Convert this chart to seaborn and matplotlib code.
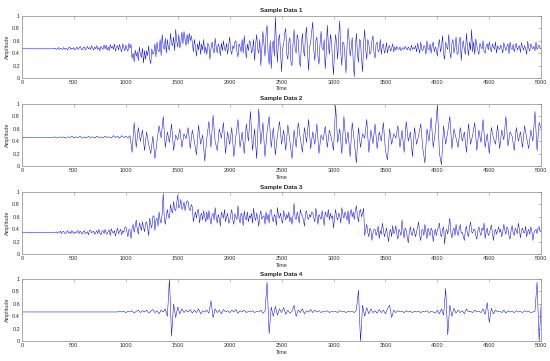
import numpy as np
import pandas as pd
import matplotlib
matplotlib.use("Agg")
import matplotlib.pyplot as plt
import seaborn as sns

titles = ["Sample Data 1", "Sample Data 2", "Sample Data 3", "Sample Data 4"]
x_ticks = [0, 500, 1000, 1500, 2000, 2500, 3000, 3500, 4000, 4500, 5000]
y_ticks = [0, 0.2, 0.4, 0.6, 0.8, 1]
y_tick_labels = ["0", "0.2", "0.4", "0.6", "0.8", "1"]

# Sample Data 1: one value every 10 time units (each line = 100 time units)
data1 = [
    .47, .47, .47, .47, .47, .47, .47, .47, .47, .47,
    .47, .47, .47, .47, .47, .47, .47, .47, .47, .47,
    .47, .47, .47, .47, .47, .47, .47, .47, .47, .47,
    .47, .47, .48, .46, .47, .49, .46, .48, .47, .46,
    .49, .46, .48, .47, .45, .49, .50, .46, .48, .47,
    .49, .45, .47, .50, .46, .48, .51, .47, .45, .49,
    .50, .45, .48, .51, .47, .49, .46, .52, .48, .45,
    .50, .47, .52, .46, .49, .44, .51, .48, .46, .53,
    .47, .53, .45, .50, .44, .54, .48, .51, .46, .55,
    .43, .50, .52, .45, .54, .47, .42, .55, .49, .44,
    .53, .46, .43, .56, .48, .54, .32, .40, .26, .45,
    .35, .42, .28, .50, .38, .33, .48, .24, .44, .30,
    .44, .36, .52, .30, .23, .47, .38, .40, .55, .34,
    .58, .45, .42, .62, .36, .70, .50, .46, .64, .40,
    .62, .48, .45, .72, .55, .52, .66, .44, .78, .60,
    .50, .70, .48, .58, .74, .55, .75, .62, .52, .70,
    .55, .72, .60, .68, .58, .42, .62, .50, .35, .55,
    .45, .60, .38, .55, .45, .62, .40, .50, .38, .56,
    .52, .30, .48, .58, .46, .40, .64, .50, .40, .55,
    .50, .36, .56, .44, .60, .47, .44, .56, .38, .52,
    .66, .45, .38, .52, .47, .58, .60, .42, .34, .55,
    .50, .42, .62, .40, .68, .48, .32, .55, .44, .60,
    .58, .40, .45, .62, .28, .55, .70, .46, .40, .62,
    .20, .48, .75, .55, .35, .70, .85, .40, .22, .60,
    .15, .52, .60, .35, .98, .55, .25, .62, .70, .40,
    .10, .48, .55, .72, .80, .38, .30, .58, .65, .25,
    .20, .55, .78, .48, .40, .70, .62, .30, .18, .52,
    .72, .45, .35, .68, .82, .40, .12, .50, .58, .75,
    .90, .45, .28, .60, .66, .35, .22, .55, .75, .48,
    .45, .62, .15, .40, .85, .55, .38, .70, .60, .30,
    .05, .45, .70, .55, .30, .68, .92, .40, .20, .58,
    .55, .35, .08, .50, .80, .62, .35, .48, .65, .25,
    .02, .48, .72, .40, .25, .62, .60, .30, .10, .55,
    .78, .45, .30, .62, .55, .38, .42, .60, .68, .40,
    .32, .55, .58, .42, .45, .62, .38, .52, .55, .40,
    .44, .57, .40, .50, .52, .43, .48, .55, .42, .50,
    .45, .51, .47, .46, .50, .44, .47, .49, .46, .51,
    .48, .45, .50, .47, .44, .53, .46, .49, .47, .52,
    .42, .56, .48, .40, .58, .46, .44, .52, .50, .38,
    .60, .47, .45, .55, .40, .52, .58, .42, .50, .46,
    .35, .55, .62, .42, .50, .68, .38, .30, .58, .50,
    .46, .70, .42, .32, .55, .62, .40, .50, .66, .38,
    .40, .58, .66, .28, .52, .60, .45, .38, .72, .50,
    .36, .58, .45, .78, .42, .58, .38, .63, .52, .44,
    .38, .56, .50, .47, .60, .42, .40, .52, .55, .45,
    .58, .48, .42, .55, .50, .46, .58, .40, .52, .48,
    .46, .53, .48, .40, .57, .50, .44, .51, .55, .39,
    .58, .47, .46, .54, .42, .50, .56, .45, .49, .52,
    .41, .57, .50, .45, .52, .47, .38, .59, .48, .43,
    .55, .50, .47, .51, .44, .58, .46, .50, .53, .47,
    .49,
]

# Sample Data 2: one value every 20 time units (each line = 200 time units)
data2 = [
    .46, .46, .46, .46, .46, .46, .46, .46, .46, .46,
    .46, .46, .46, .46, .46, .46, .47, .45, .47, .46,
    .47, .45, .47, .46, .48, .45, .47, .46, .48, .45,
    .47, .45, .48, .46, .47, .45, .48, .46, .47, .45,
    .48, .46, .47, .45, .49, .46, .48, .45, .49, .46,
    .48, .45, .49, .22, .70, .30, .62, .40, .58, .25,
    .55, .35, .20, .48, .12, .40, .65, .45, .80, .30,
    .55, .38, .68, .25, .50, .42, .60, .30, .52, .44,
    .62, .28, .58, .40, .18, .66, .35, .50, .08, .45,
    .72, .30, .82, .40, .25, .60, .45, .70, .20, .55,
    .35, .62, .15, .48, .75, .30, .55, .20, .68, .40,
    .88, .25, .60, .12, .92, .35, .70, .15, .55, .80,
    .30, .62, .18, .50, .72, .35, .58, .25, .66, .40,
    .12, .58, .30, .70, .45, .22, .62, .38, .75, .28,
    .55, .35, .68, .20, .50, .42, .64, .30, .58, .45,
    .25, .98, .38, .60, .20, .80, .35, .55, .15, .70,
    .40, .05, .62, .30, .52, .45, .75, .22, .58, .36,
    .68, .28, .55, .40, .70, .25, .10, .60, .35, .52,
    .45, .65, .30, .58, .22, .72, .40, .55, .15, .62,
    .35, .50, .68, .28, .05, .60, .40, .78, .30, .55,
    .98, .20, .02, .65, .35, .55, .80, .28, .60, .45,
    .30, .62, .40, .55, .22, .68, .35, .50, .70, .25,
    .58, .38, .75, .30, .52, .20, .62, .45, .35, .66,
    .28, .58, .42, .80, .32, .55, .48, .25, .62, .40,
    .55, .30, .65, .45, .28, .58, .40, .88, .25, .70,
    .60,
]

# Sample Data 3: one value every 10 time units (each line = 100 time units)
data3 = [
    .35, .35, .35, .35, .35, .35, .35, .35, .35, .35,
    .35, .35, .35, .35, .35, .35, .35, .35, .35, .35,
    .35, .35, .35, .35, .35, .35, .35, .35, .35, .35,
    .35, .35, .35, .36, .34, .36, .35, .37, .33, .36,
    .37, .34, .33, .36, .38, .34, .36, .33, .38, .35,
    .33, .36, .34, .37, .38, .33, .37, .35, .32, .36,
    .38, .33, .35, .36, .31, .38, .39, .34, .36, .37,
    .32, .35, .38, .33, .40, .34, .31, .37, .38, .33,
    .40, .34, .32, .37, .39, .30, .41, .36, .34, .38,
    .29, .36, .42, .33, .37, .40, .31, .38, .35, .43,
    .44, .36, .28, .40, .38, .25, .42, .48, .35, .45,
    .55, .40, .32, .50, .46, .38, .52, .44, .36, .50,
    .52, .42, .30, .58, .48, .42, .60, .62, .38, .55,
    .58, .45, .68, .55, .50, .65, .98, .58, .48, .62,
    .72, .60, .58, .80, .70, .66, .85, .72, .70, .82,
    .95, .74, .78, .88, .72, .76, .84, .70, .80, .86,
    .84, .72, .70, .80, .76, .52, .62, .68, .58, .70,
    .72, .50, .62, .66, .55, .70, .60, .52, .68, .55,
    .70, .58, .48, .62, .66, .55, .75, .60, .50, .64,
    .58, .45, .68, .62, .58, .72, .52, .60, .66, .50,
    .52, .64, .72, .55, .48, .65, .60, .56, .78, .58,
    .50, .66, .62, .46, .70, .58, .55, .68, .52, .62,
    .58, .66, .50, .74, .60, .54, .66, .58, .45, .62,
    .70, .56, .60, .62, .48, .68, .55, .64, .50, .70,
    .72, .58, .52, .64, .60, .46, .75, .62, .58, .66,
    .55, .50, .70, .62, .55, .64, .58, .68, .52, .60,
    .48, .62, .82, .58, .56, .68, .60, .50, .72, .64,
    .62, .55, .45, .66, .70, .58, .56, .64, .60, .68,
    .66, .58, .52, .74, .62, .48, .64, .60, .56, .70,
    .58, .46, .68, .62, .60, .72, .55, .66, .58, .62,
    .42, .58, .72, .60, .55, .66, .62, .50, .75, .64,
    .58, .68, .62, .55, .70, .48, .66, .72, .60, .68,
    .56, .70, .78, .62, .52, .68, .72, .60, .66, .74,
    .30, .40, .48, .35, .28, .42, .38, .22, .34, .40,
    .40, .30, .36, .45, .25, .38, .32, .50, .40, .28,
    .35, .42, .30, .20, .36, .40, .28, .46, .33, .36,
    .46, .32, .24, .40, .36, .30, .55, .38, .26, .42,
    .38, .28, .18, .36, .44, .32, .30, .42, .36, .28,
    .36, .44, .52, .30, .22, .38, .40, .30, .48, .36,
    .25, .42, .35, .30, .42, .38, .20, .34, .40, .30,
    .38, .44, .50, .32, .28, .40, .44, .16, .36, .40,
    .32, .45, .58, .35, .26, .38, .42, .30, .48, .36,
    .30, .40, .48, .34, .35, .28, .22, .40, .45, .32,
    .28, .44, .52, .36, .34, .40, .40, .30, .24, .38,
    .44, .35, .30, .42, .38, .50, .25, .36, .42, .30,
    .33, .40, .47, .34, .22, .36, .40, .32, .38, .44,
    .35, .40, .28, .36, .48, .38, .32, .44, .40, .30,
    .24, .38, .46, .34, .30, .42, .38, .33, .50, .40,
    .26, .38, .42, .35, .34, .45, .28, .36, .40, .32,
    .44, .38, .22, .34, .38, .40, .33, .42, .44, .36,
    .36,
]

# Sample Data 4: one value every 20 time units (each line = 200 time units)
data4 = [
    .47, .47, .47, .47, .47, .47, .47, .47, .47, .47,
    .47, .47, .47, .47, .47, .47, .47, .47, .47, .47,
    .47, .47, .47, .47, .47, .47, .47, .47, .47, .47,
    .47, .47, .47, .47, .47, .47, .47, .47, .47, .47,
    .47, .47, .47, .47, .47, .47, .47, .48, .47, .48,
    .46, .48, .47, .49, .45, .48, .50, .46, .49, .47,
    .50, .45, .48, .51, .46, .49, .44, .50, .47, .52,
    .40, 1.0, .08, .60, .38, .55, .44, .52, .46, .50,
    .47, .51, .45, .50, .46, .52, .44, .49, .47, .50,
    .45, .65, .38, .52, .46, .50, .44, .51, .47, .49,
    .46, .50, .47, .51, .45, .49, .47, .50, .46, .48,
    .47, .49, .46, .48, .47, .50, .45, .48, .95, .12,
    .55, .40, .56, .42, .52, .46, .54, .43, .50, .45,
    .48, .58, .40, .50, .46, .52, .44, .49, .47, .51,
    .46, .50, .47, .49, .46, .48, .47, .49, .46, .48,
    .47, .48, .46, .49, .47, .48, .46, .48, .47, .48,
    .46, .50, .82, .00, .58, .40, .54, .44, .52, .46,
    .49, .45, .51, .46, .50, .44, .52, .58, .38, .50,
    .46, .49, .47, .48, .46, .49, .47, .48, .46, .48,
    .47, .48, .46, .48, .47, .49, .46, .48, .47, .45,
    .50, .44, .52, .42, .85, .10, .58, .40, .53, .45,
    .50, .46, .49, .44, .52, .47, .48, .46, .50, .47,
    .48, .46, .52, .43, .62, .30, .53, .44, .50, .47,
    .48, .46, .50, .45, .49, .47, .48, .46, .49, .47,
    .48, .46, .49, .47, .48, .46, .47, .48, .95, .00,
    .60,
]

series = [data1, data2, data3, data4]

sns.set_style("white")
plt.rcParams["font.family"] = ["Liberation Sans", "DejaVu Sans"]

fig = plt.figure(figsize=(5.5, 3.61), dpi=100)
tops = [0.956, 0.712, 0.468, 0.227]
h = 0.172
edge = "#8a8a8a"
for title, vals, top in zip(titles, series, tops):
    ax = fig.add_axes([0.040, top - h, 0.944, h])
    t = np.linspace(0, 5000, len(vals))
    df = pd.DataFrame({"Time": t, "Amplitude": vals})
    sns.lineplot(data=df, x="Time", y="Amplitude", ax=ax, color="#0000ff",
                 linewidth=0.35, estimator=None)
    ax.set_xlim(0, 5000)
    ax.set_ylim(0, 1)
    ax.set_xticks(x_ticks)
    ax.set_xticklabels([str(v) for v in x_ticks])
    ax.set_yticks(y_ticks)
    ax.set_yticklabels(y_tick_labels)
    ax.tick_params(direction="in", length=2, width=0.4, labelsize=4,
                   top=True, right=True, colors=edge, labelcolor="#333333", pad=1.5)
    for s in ax.spines.values():
        s.set_color(edge)
        s.set_linewidth(0.5)
    ax.set_title(title, fontsize=4.5, fontweight="bold", pad=2.5)
    ax.set_xlabel("Time", fontsize=4, labelpad=1, color="#333333")
    ax.set_ylabel("Amplitude", fontsize=4, labelpad=1.5, color="#333333")

fig.savefig("out.png", dpi=100, facecolor="white")
